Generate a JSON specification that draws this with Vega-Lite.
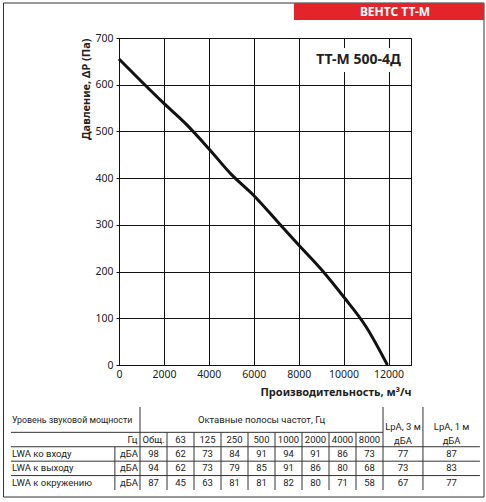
{
  "$schema": "https://vega.github.io/schema/vega-lite/v6.json",
  "description": "ВЕНТС ТТ-М 500-4Д fan curve with sound power table",
  "width": 292,
  "height": 327,
  "autosize": "none",
  "padding": {"left": 119, "top": 38, "right": 75, "bottom": 137},
  "background": "white",
  "datasets": {
    "curve": [
      {"airflow": 0, "pressure": 655},
      {"airflow": 1000, "pressure": 607},
      {"airflow": 2000, "pressure": 560},
      {"airflow": 3000, "pressure": 515},
      {"airflow": 4000, "pressure": 463},
      {"airflow": 5000, "pressure": 408},
      {"airflow": 6000, "pressure": 363},
      {"airflow": 7000, "pressure": 310},
      {"airflow": 8000, "pressure": 257},
      {"airflow": 9000, "pressure": 205},
      {"airflow": 10000, "pressure": 146},
      {"airflow": 11000, "pressure": 82},
      {"airflow": 11950, "pressure": 0}
    ],
    "levels": [
      {"source": "LWA ко входу", "band": "Общ.", "level": 98},
      {"source": "LWA ко входу", "band": "63", "level": 62},
      {"source": "LWA ко входу", "band": "125", "level": 73},
      {"source": "LWA ко входу", "band": "250", "level": 84},
      {"source": "LWA ко входу", "band": "500", "level": 91},
      {"source": "LWA ко входу", "band": "1000", "level": 94},
      {"source": "LWA ко входу", "band": "2000", "level": 91},
      {"source": "LWA ко входу", "band": "4000", "level": 86},
      {"source": "LWA ко входу", "band": "8000", "level": 73},
      {"source": "LWA ко входу", "band": "LpA, 3 м", "level": 77},
      {"source": "LWA ко входу", "band": "LpA, 1 м", "level": 87},
      {"source": "LWA к выходу", "band": "Общ.", "level": 94},
      {"source": "LWA к выходу", "band": "63", "level": 62},
      {"source": "LWA к выходу", "band": "125", "level": 73},
      {"source": "LWA к выходу", "band": "250", "level": 79},
      {"source": "LWA к выходу", "band": "500", "level": 85},
      {"source": "LWA к выходу", "band": "1000", "level": 91},
      {"source": "LWA к выходу", "band": "2000", "level": 86},
      {"source": "LWA к выходу", "band": "4000", "level": 80},
      {"source": "LWA к выходу", "band": "8000", "level": 68},
      {"source": "LWA к выходу", "band": "LpA, 3 м", "level": 73},
      {"source": "LWA к выходу", "band": "LpA, 1 м", "level": 83},
      {"source": "LWA к окружению", "band": "Общ.", "level": 87},
      {"source": "LWA к окружению", "band": "63", "level": 45},
      {"source": "LWA к окружению", "band": "125", "level": 63},
      {"source": "LWA к окружению", "band": "250", "level": 81},
      {"source": "LWA к окружению", "band": "500", "level": 81},
      {"source": "LWA к окружению", "band": "1000", "level": 82},
      {"source": "LWA к окружению", "band": "2000", "level": 80},
      {"source": "LWA к окружению", "band": "4000", "level": 71},
      {"source": "LWA к окружению", "band": "8000", "level": 58},
      {"source": "LWA к окружению", "band": "LpA, 3 м", "level": 67},
      {"source": "LWA к окружению", "band": "LpA, 1 м", "level": 77}
    ]
  },
  "layer": [
    {
      "layer": [
        {
          "data": {"values": [{}]},
          "mark": {"type": "rect", "filled": false, "stroke": "#333", "strokeWidth": 1},
          "encoding": {
            "x": {"datum": -5142, "type": "quantitative", "scale": {"domain": [0, 13000], "nice": false}},
            "x2": {"datum": 16250},
            "y": {"datum": 774.9, "type": "quantitative", "scale": {"domain": [0, 700], "nice": false}},
            "y2": {"datum": -282.6}
          }
        },
        {
          "data": {"values": [{}]},
          "mark": {"type": "rect", "fill": "#e3242b"},
          "encoding": {
            "x": {"datum": 7791, "type": "quantitative", "scale": {"domain": [0, 13000], "nice": false}},
            "x2": {"datum": 16250},
            "y": {"datum": 774.9, "type": "quantitative", "scale": {"domain": [0, 700], "nice": false}},
            "y2": {"datum": 738.5}
          }
        },
        {
          "data": {"values": [{}]},
          "mark": {"type": "text", "font": "Noto Sans", "fontSize": 12, "fontWeight": "bold", "color": "white", "baseline": "middle"},
          "encoding": {
            "x": {"datum": 12288, "type": "quantitative", "scale": {"domain": [0, 13000], "nice": false}},
            "y": {"datum": 756.7, "type": "quantitative", "scale": {"domain": [0, 700], "nice": false}},
            "text": {"value": "ВЕНТС ТТ-М"}
          }
        },
        {
          "data": {"name": "curve"},
          "mark": {"type": "line", "color": "#111", "strokeWidth": 3, "interpolate": "monotone"},
          "encoding": {
            "x": {
              "field": "airflow",
              "type": "quantitative",
              "scale": {"domain": [0, 13000], "nice": false},
              "axis": {
                "values": [0, 1000, 2000, 3000, 4000, 5000, 6000, 7000, 8000, 9000, 10000, 11000, 12000, 13000],
                "format": "d",
                "labelExpr": "datum.value % 2000 === 0 ? datum.label : ''",
                "labelOverlap": false,
                "labelFlush": false,
                "grid": true,
                "gridColor": "#111",
                "gridOpacity": 1,
                "ticks": false,
                "domainColor": "#111",
                "labelFont": "Noto Sans",
                "labelFontSize": 10.5,
                "labelColor": "#222",
                "labelPadding": 4,
                "title": "Производительность,  м³/ч",
                "titleAnchor": "end",
                "titleFont": "Noto Sans",
                "titleFontSize": 11,
                "titleFontWeight": "bold",
                "titleColor": "#222",
                "titlePadding": 7
              }
            },
            "y": {
              "field": "pressure",
              "type": "quantitative",
              "scale": {"domain": [0, 700], "nice": false},
              "axis": {
                "values": [0, 50, 100, 150, 200, 250, 300, 350, 400, 450, 500, 550, 600, 650, 700],
                "labelExpr": "datum.value % 100 === 0 ? datum.label : ''",
                "labelOverlap": false,
                "labelFlush": false,
                "grid": true,
                "gridColor": "#111",
                "gridOpacity": 1,
                "tickSize": 3,
                "tickColor": "#111",
                "tickOpacity": {"condition": {"test": "datum.value % 100 === 0", "value": 1}, "value": 0},
                "domainColor": "#111",
                "labelFont": "Noto Sans",
                "labelFontSize": 10.5,
                "labelColor": "#222",
                "labelPadding": 3,
                "title": "Давление, ΔP (Па)",
                "titleAnchor": "end",
                "titleFont": "Noto Sans",
                "titleFontSize": 11,
                "titleFontWeight": "bold",
                "titleColor": "#222",
                "titlePadding": 3
              }
            }
          }
        },
        {
          "data": {"values": [{}]},
          "mark": {"type": "rect", "fill": "white"},
          "encoding": {
            "x": {"datum": 8414, "type": "quantitative", "scale": {"domain": [0, 13000], "nice": false}},
            "x2": {"datum": 12688},
            "y": {"datum": 678.6, "type": "quantitative", "scale": {"domain": [0, 700], "nice": false}},
            "y2": {"datum": 627.2}
          }
        },
        {
          "data": {"values": [{}]},
          "mark": {"type": "text", "font": "Noto Sans", "fontSize": 14, "fontWeight": "bold", "color": "#222", "baseline": "middle"},
          "encoding": {
            "x": {"datum": 10663, "type": "quantitative", "scale": {"domain": [0, 13000], "nice": false}},
            "y": {"datum": 652.9, "type": "quantitative", "scale": {"domain": [0, 700], "nice": false}},
            "text": {"value": "ТТ-М 500-4Д"}
          }
        }
      ]
    },
    {
      "data": {"name": "levels"},
      "layer": [
        {
          "data": {"values": [{}]},
          "mark": {"type": "text", "align": "left", "baseline": "middle", "fontSize": 8.8},
          "encoding": {
            "x": {"datum": "label", "type": "nominal", "bandPosition": 0.26, "axis": null, "scale": {"type": "band", "domain": ["label", "_1", "_2", "_3", "unit", "Общ.", "63", "125", "250", "500", "1000", "2000", "4000", "8000", "LpA, 3 м", "_p", "LpA, 1 м", "_q"], "range": [-114, 372], "paddingInner": 0, "paddingOuter": 0}},
            "y": {"datum": "h1b", "type": "nominal", "bandPosition": 0.15, "axis": null, "scale": {"type": "band", "domain": ["h1a", "h1b", "Гц", "LWA ко входу", "LWA к выходу", "LWA к окружению", "bot"], "range": [365.5, 466.4], "paddingInner": 0, "paddingOuter": 0}},
            "text": {"value": "Уровень звуковой мощности"}
          }
        },
        {
          "data": {"values": [{}]},
          "mark": {"type": "text", "align": "center", "baseline": "middle"},
          "encoding": {
            "x": {"datum": "500", "type": "nominal", "bandPosition": 0.5, "axis": null, "scale": {"type": "band", "domain": ["label", "_1", "_2", "_3", "unit", "Общ.", "63", "125", "250", "500", "1000", "2000", "4000", "8000", "LpA, 3 м", "_p", "LpA, 1 м", "_q"], "range": [-114, 372], "paddingInner": 0, "paddingOuter": 0}},
            "y": {"datum": "h1b", "type": "nominal", "bandPosition": 0.15, "axis": null, "scale": {"type": "band", "domain": ["h1a", "h1b", "Гц", "LWA ко входу", "LWA к выходу", "LWA к окружению", "bot"], "range": [365.5, 466.4], "paddingInner": 0, "paddingOuter": 0}},
            "text": {"value": "Октавные полосы частот, Гц"}
          }
        },
        {
          "data": {"values": [{}]},
          "mark": {"type": "text", "align": "center", "baseline": "middle", "lineHeight": 14},
          "encoding": {
            "x": {"datum": "LpA, 3 м", "type": "nominal", "bandPosition": 0.74, "axis": null, "scale": {"type": "band", "domain": ["label", "_1", "_2", "_3", "unit", "Общ.", "63", "125", "250", "500", "1000", "2000", "4000", "8000", "LpA, 3 м", "_p", "LpA, 1 м", "_q"], "range": [-114, 372], "paddingInner": 0, "paddingOuter": 0}},
            "y": {"datum": "h1b", "type": "nominal", "bandPosition": 0.63, "axis": null, "scale": {"type": "band", "domain": ["h1a", "h1b", "Гц", "LWA ко входу", "LWA к выходу", "LWA к окружению", "bot"], "range": [365.5, 466.4], "paddingInner": 0, "paddingOuter": 0}},
            "text": {"value": ["LpA, 3 м", "дБА"]}
          }
        },
        {
          "data": {"values": [{}]},
          "mark": {"type": "text", "align": "center", "baseline": "middle", "lineHeight": 14},
          "encoding": {
            "x": {"datum": "LpA, 1 м", "type": "nominal", "bandPosition": 0.54, "axis": null, "scale": {"type": "band", "domain": ["label", "_1", "_2", "_3", "unit", "Общ.", "63", "125", "250", "500", "1000", "2000", "4000", "8000", "LpA, 3 м", "_p", "LpA, 1 м", "_q"], "range": [-114, 372], "paddingInner": 0, "paddingOuter": 0}},
            "y": {"datum": "h1b", "type": "nominal", "bandPosition": 0.63, "axis": null, "scale": {"type": "band", "domain": ["h1a", "h1b", "Гц", "LWA ко входу", "LWA к выходу", "LWA к окружению", "bot"], "range": [365.5, 466.4], "paddingInner": 0, "paddingOuter": 0}},
            "text": {"value": ["LpA, 1 м", "дБА"]}
          }
        },
        {
          "data": {"values": [{}]},
          "mark": {"type": "text", "align": "center", "baseline": "middle"},
          "encoding": {
            "x": {"datum": "unit", "type": "nominal", "bandPosition": 0.72, "axis": null, "scale": {"type": "band", "domain": ["label", "_1", "_2", "_3", "unit", "Общ.", "63", "125", "250", "500", "1000", "2000", "4000", "8000", "LpA, 3 м", "_p", "LpA, 1 м", "_q"], "range": [-114, 372], "paddingInner": 0, "paddingOuter": 0}},
            "y": {"datum": "Гц", "type": "nominal", "bandPosition": 0.53, "axis": null, "scale": {"type": "band", "domain": ["h1a", "h1b", "Гц", "LWA ко входу", "LWA к выходу", "LWA к окружению", "bot"], "range": [365.5, 466.4], "paddingInner": 0, "paddingOuter": 0}},
            "text": {"value": "Гц"}
          }
        },
        {
          "transform": [
            {"filter": {"field": "source", "equal": "LWA ко входу"}},
            {"filter": {"field": "band", "oneOf": ["Общ.", "63", "125", "250", "500", "1000", "2000", "4000", "8000"]}}
          ],
          "mark": {"type": "text", "align": "center", "baseline": "middle"},
          "encoding": {
            "x": {"field": "band", "type": "nominal", "bandPosition": 0.5, "axis": null, "scale": {"type": "band", "domain": ["label", "_1", "_2", "_3", "unit", "Общ.", "63", "125", "250", "500", "1000", "2000", "4000", "8000", "LpA, 3 м", "_p", "LpA, 1 м", "_q"], "range": [-114, 372], "paddingInner": 0, "paddingOuter": 0}},
            "y": {"datum": "Гц", "type": "nominal", "bandPosition": 0.53, "axis": null, "scale": {"type": "band", "domain": ["h1a", "h1b", "Гц", "LWA ко входу", "LWA к выходу", "LWA к окружению", "bot"], "range": [365.5, 466.4], "paddingInner": 0, "paddingOuter": 0}},
            "text": {"field": "band"}
          }
        },
        {
          "transform": [{"filter": {"field": "band", "equal": "Общ."}}],
          "mark": {"type": "text", "align": "left", "baseline": "middle"},
          "encoding": {
            "x": {"datum": "label", "type": "nominal", "bandPosition": 0.26, "axis": null, "scale": {"type": "band", "domain": ["label", "_1", "_2", "_3", "unit", "Общ.", "63", "125", "250", "500", "1000", "2000", "4000", "8000", "LpA, 3 м", "_p", "LpA, 1 м", "_q"], "range": [-114, 372], "paddingInner": 0, "paddingOuter": 0}},
            "y": {"field": "source", "type": "nominal", "bandPosition": 0.5, "axis": null, "scale": {"type": "band", "domain": ["h1a", "h1b", "Гц", "LWA ко входу", "LWA к выходу", "LWA к окружению", "bot"], "range": [365.5, 466.4], "paddingInner": 0, "paddingOuter": 0}},
            "text": {"field": "source"}
          }
        },
        {
          "transform": [{"filter": {"field": "band", "equal": "Общ."}}],
          "mark": {"type": "text", "align": "center", "baseline": "middle"},
          "encoding": {
            "x": {"datum": "unit", "type": "nominal", "bandPosition": 0.59, "axis": null, "scale": {"type": "band", "domain": ["label", "_1", "_2", "_3", "unit", "Общ.", "63", "125", "250", "500", "1000", "2000", "4000", "8000", "LpA, 3 м", "_p", "LpA, 1 м", "_q"], "range": [-114, 372], "paddingInner": 0, "paddingOuter": 0}},
            "y": {"field": "source", "type": "nominal", "bandPosition": 0.5, "axis": null, "scale": {"type": "band", "domain": ["h1a", "h1b", "Гц", "LWA ко входу", "LWA к выходу", "LWA к окружению", "bot"], "range": [365.5, 466.4], "paddingInner": 0, "paddingOuter": 0}},
            "text": {"value": "дБА"}
          }
        },
        {
          "transform": [{"filter": {"field": "band", "oneOf": ["Общ.", "63", "125", "250", "500", "1000", "2000", "4000", "8000"]}}],
          "mark": {"type": "text", "align": "center", "baseline": "middle"},
          "encoding": {
            "x": {"field": "band", "type": "nominal", "bandPosition": 0.5, "axis": null, "scale": {"type": "band", "domain": ["label", "_1", "_2", "_3", "unit", "Общ.", "63", "125", "250", "500", "1000", "2000", "4000", "8000", "LpA, 3 м", "_p", "LpA, 1 м", "_q"], "range": [-114, 372], "paddingInner": 0, "paddingOuter": 0}},
            "y": {"field": "source", "type": "nominal", "bandPosition": 0.5, "axis": null, "scale": {"type": "band", "domain": ["h1a", "h1b", "Гц", "LWA ко входу", "LWA к выходу", "LWA к окружению", "bot"], "range": [365.5, 466.4], "paddingInner": 0, "paddingOuter": 0}},
            "text": {"field": "level", "type": "quantitative"}
          }
        },
        {
          "transform": [{"filter": {"field": "band", "equal": "LpA, 3 м"}}],
          "mark": {"type": "text", "align": "center", "baseline": "middle"},
          "encoding": {
            "x": {"field": "band", "type": "nominal", "bandPosition": 0.74, "axis": null, "scale": {"type": "band", "domain": ["label", "_1", "_2", "_3", "unit", "Общ.", "63", "125", "250", "500", "1000", "2000", "4000", "8000", "LpA, 3 м", "_p", "LpA, 1 м", "_q"], "range": [-114, 372], "paddingInner": 0, "paddingOuter": 0}},
            "y": {"field": "source", "type": "nominal", "bandPosition": 0.5, "axis": null, "scale": {"type": "band", "domain": ["h1a", "h1b", "Гц", "LWA ко входу", "LWA к выходу", "LWA к окружению", "bot"], "range": [365.5, 466.4], "paddingInner": 0, "paddingOuter": 0}},
            "text": {"field": "level", "type": "quantitative"}
          }
        },
        {
          "transform": [{"filter": {"field": "band", "equal": "LpA, 1 м"}}],
          "mark": {"type": "text", "align": "center", "baseline": "middle"},
          "encoding": {
            "x": {"field": "band", "type": "nominal", "bandPosition": 0.54, "axis": null, "scale": {"type": "band", "domain": ["label", "_1", "_2", "_3", "unit", "Общ.", "63", "125", "250", "500", "1000", "2000", "4000", "8000", "LpA, 3 м", "_p", "LpA, 1 м", "_q"], "range": [-114, 372], "paddingInner": 0, "paddingOuter": 0}},
            "y": {"field": "source", "type": "nominal", "bandPosition": 0.5, "axis": null, "scale": {"type": "band", "domain": ["h1a", "h1b", "Гц", "LWA ко входу", "LWA к выходу", "LWA к окружению", "bot"], "range": [365.5, 466.4], "paddingInner": 0, "paddingOuter": 0}},
            "text": {"field": "level", "type": "quantitative"}
          }
        },
        {
          "transform": [{"filter": {"field": "band", "equal": "Общ."}}],
          "mark": {"type": "rule"},
          "encoding": {
            "x": {"datum": "label", "type": "nominal", "bandPosition": 0.22, "axis": null, "scale": {"type": "band", "domain": ["label", "_1", "_2", "_3", "unit", "Общ.", "63", "125", "250", "500", "1000", "2000", "4000", "8000", "LpA, 3 м", "_p", "LpA, 1 м", "_q"], "range": [-114, 372], "paddingInner": 0, "paddingOuter": 0}},
            "x2": {"datum": "_q", "bandPosition": 0.59},
            "y": {"field": "source", "type": "nominal", "bandPosition": 0, "axis": null, "scale": {"type": "band", "domain": ["h1a", "h1b", "Гц", "LWA ко входу", "LWA к выходу", "LWA к окружению", "bot"], "range": [365.5, 466.4], "paddingInner": 0, "paddingOuter": 0}}
          }
        },
        {
          "data": {"values": [{}]},
          "mark": {"type": "rule"},
          "encoding": {
            "x": {"datum": "label", "type": "nominal", "bandPosition": 0.22, "axis": null, "scale": {"type": "band", "domain": ["label", "_1", "_2", "_3", "unit", "Общ.", "63", "125", "250", "500", "1000", "2000", "4000", "8000", "LpA, 3 м", "_p", "LpA, 1 м", "_q"], "range": [-114, 372], "paddingInner": 0, "paddingOuter": 0}},
            "x2": {"datum": "LpA, 3 м", "bandPosition": 0},
            "y": {"datum": "Гц", "type": "nominal", "bandPosition": 0, "axis": null, "scale": {"type": "band", "domain": ["h1a", "h1b", "Гц", "LWA ко входу", "LWA к выходу", "LWA к окружению", "bot"], "range": [365.5, 466.4], "paddingInner": 0, "paddingOuter": 0}}
          }
        },
        {
          "transform": [
            {"filter": {"field": "source", "equal": "LWA ко входу"}},
            {"filter": {"field": "band", "oneOf": ["63", "125", "250", "500", "1000", "2000", "4000", "8000"]}}
          ],
          "mark": {"type": "rule"},
          "encoding": {
            "x": {"field": "band", "type": "nominal", "bandPosition": 0, "axis": null, "scale": {"type": "band", "domain": ["label", "_1", "_2", "_3", "unit", "Общ.", "63", "125", "250", "500", "1000", "2000", "4000", "8000", "LpA, 3 м", "_p", "LpA, 1 м", "_q"], "range": [-114, 372], "paddingInner": 0, "paddingOuter": 0}},
            "y": {"datum": "Гц", "type": "nominal", "bandPosition": 0, "axis": null, "scale": {"type": "band", "domain": ["h1a", "h1b", "Гц", "LWA ко входу", "LWA к выходу", "LWA к окружению", "bot"], "range": [365.5, 466.4], "paddingInner": 0, "paddingOuter": 0}},
            "y2": {"datum": "bot", "bandPosition": 0}
          }
        },
        {
          "transform": [
            {"filter": {"field": "source", "equal": "LWA ко входу"}},
            {"filter": {"field": "band", "oneOf": ["Общ.", "LpA, 3 м"]}}
          ],
          "mark": {"type": "rule"},
          "encoding": {
            "x": {"field": "band", "type": "nominal", "bandPosition": 0, "axis": null, "scale": {"type": "band", "domain": ["label", "_1", "_2", "_3", "unit", "Общ.", "63", "125", "250", "500", "1000", "2000", "4000", "8000", "LpA, 3 м", "_p", "LpA, 1 м", "_q"], "range": [-114, 372], "paddingInner": 0, "paddingOuter": 0}},
            "y": {"datum": "h1a", "type": "nominal", "bandPosition": 0.24, "axis": null, "scale": {"type": "band", "domain": ["h1a", "h1b", "Гц", "LWA ко входу", "LWA к выходу", "LWA к окружению", "bot"], "range": [365.5, 466.4], "paddingInner": 0, "paddingOuter": 0}},
            "y2": {"datum": "bot", "bandPosition": 0}
          }
        },
        {
          "transform": [
            {"filter": {"field": "source", "equal": "LWA ко входу"}},
            {"filter": {"field": "band", "equal": "LpA, 1 м"}}
          ],
          "mark": {"type": "rule"},
          "encoding": {
            "x": {"field": "band", "type": "nominal", "bandPosition": -0.52, "axis": null, "scale": {"type": "band", "domain": ["label", "_1", "_2", "_3", "unit", "Общ.", "63", "125", "250", "500", "1000", "2000", "4000", "8000", "LpA, 3 м", "_p", "LpA, 1 м", "_q"], "range": [-114, 372], "paddingInner": 0, "paddingOuter": 0}},
            "y": {"datum": "h1a", "type": "nominal", "bandPosition": 0.24, "axis": null, "scale": {"type": "band", "domain": ["h1a", "h1b", "Гц", "LWA ко входу", "LWA к выходу", "LWA к окружению", "bot"], "range": [365.5, 466.4], "paddingInner": 0, "paddingOuter": 0}},
            "y2": {"datum": "bot", "bandPosition": 0}
          }
        },
        {
          "data": {"values": [{}]},
          "mark": {"type": "rule"},
          "encoding": {
            "x": {"datum": "unit", "type": "nominal", "bandPosition": 0.07, "axis": null, "scale": {"type": "band", "domain": ["label", "_1", "_2", "_3", "unit", "Общ.", "63", "125", "250", "500", "1000", "2000", "4000", "8000", "LpA, 3 м", "_p", "LpA, 1 м", "_q"], "range": [-114, 372], "paddingInner": 0, "paddingOuter": 0}},
            "y": {"datum": "LWA ко входу", "type": "nominal", "bandPosition": 0, "axis": null, "scale": {"type": "band", "domain": ["h1a", "h1b", "Гц", "LWA ко входу", "LWA к выходу", "LWA к окружению", "bot"], "range": [365.5, 466.4], "paddingInner": 0, "paddingOuter": 0}},
            "y2": {"datum": "bot", "bandPosition": 0}
          }
        }
      ]
    }
  ],
  "resolve": {"scale": {"x": "independent", "y": "independent"}},
  "config": {
    "view": {"stroke": "#111"},
    "text": {"font": "Roboto", "fontSize": 9.5, "color": "#222"},
    "rule": {"color": "#333", "strokeWidth": 1}
  }
}
